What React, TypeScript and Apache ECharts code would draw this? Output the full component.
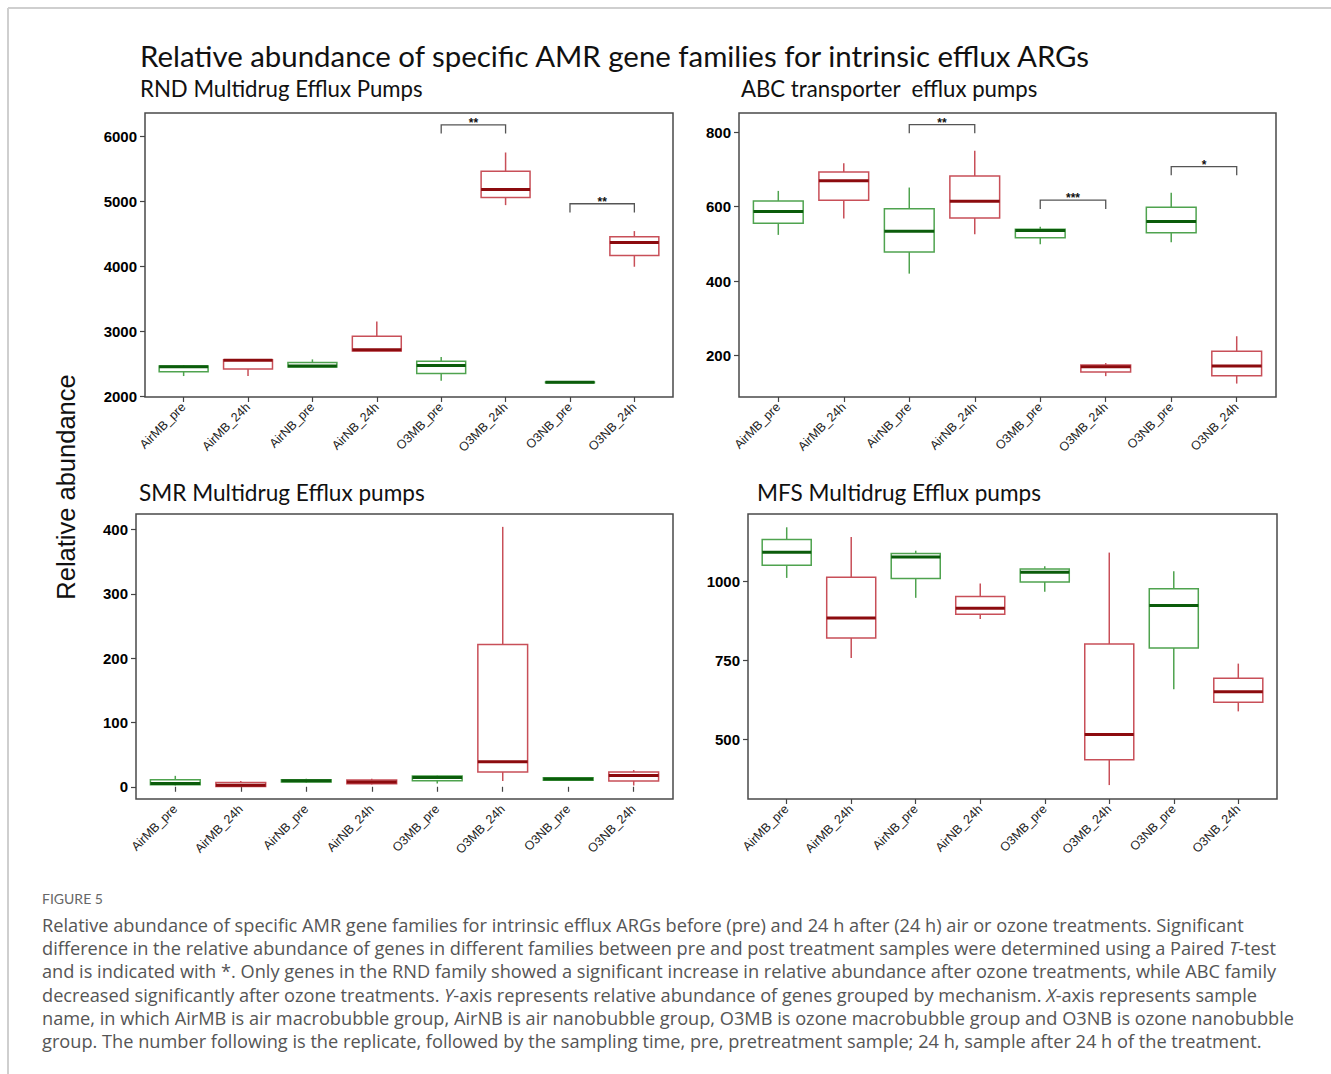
import React, { useEffect, useRef } from 'react';
import * as echarts from 'echarts';

// ---------- data ----------
const categories = ['AirMB_pre', 'AirMB_24h', 'AirNB_pre', 'AirNB_24h', 'O3MB_pre', 'O3MB_24h', 'O3NB_pre', 'O3NB_24h'];

// each row: [lower whisker, Q1, median, Q3, upper whisker]
const rndBoxes = [
  [2312, 2379, 2456, 2466, 2481],
  [2312, 2420, 2553, 2563, 2563],
  [2451, 2451, 2466, 2522, 2568],
  [2696, 2696, 2717, 2922, 3152],
  [2241, 2353, 2476, 2538, 2604],
  [4939, 5057, 5180, 5461, 5748],
  [2208, 2208, 2215, 2222, 2222],
  [3992, 4166, 4366, 4453, 4540],
];
const abcBoxes = [
  [524, 555, 587, 615, 642],
  [568, 617, 669, 693, 716],
  [420, 478, 534, 594, 651],
  [526, 569, 614, 682, 750],
  [499, 516, 536, 539, 546],
  [145, 156, 170, 175, 180],
  [504, 530, 560, 598, 637],
  [125, 146, 172, 212, 252],
];
const smrBoxes = [
  [2, 3, 5, 11, 17],
  [0, 0.5, 2.5, 6.5, 9],
  [6, 7.3, 9.3, 10.9, 12.5],
  [3.6, 4.7, 7.3, 10.4, 12.5],
  [5, 9.3, 14.5, 16.6, 17.6],
  [9, 23, 39, 221, 404],
  [10, 10, 12, 14, 14],
  [2, 9, 17.5, 22.8, 26],
];
const mfsBoxes = [
  [1010, 1050, 1091, 1131, 1170],
  [757, 820, 883, 1012, 1139],
  [947, 1008, 1076, 1087, 1096],
  [880, 895, 914, 951, 992],
  [966, 997, 1028, 1038, 1047],
  [355, 435, 515, 801, 1090],
  [658, 788, 923, 976, 1031],
  [588, 617, 650, 693, 739],
];

const rndTicks = [2000, 3000, 4000, 5000, 6000];
const abcTicks = [200, 400, 600, 800];
const smrTicks = [0, 100, 200, 300, 400];
const mfsTicks = [500, 750, 1000];

// significance brackets: [from category, to category, bracket height]
const rndSig = [[4, 5, 6173], [6, 7, 4960]];
const rndSigLabels = ['**', '**'];
const abcSig = [[2, 3, 820], [4, 5, 617], [6, 7, 707]];
const abcSigLabels = ['**', '***', '*'];

const mainTitle = 'Relative abundance of specific AMR gene families for intrinsic efflux ARGs';
const yAxisTitle = 'Relative abundance';
const figureLabel = 'FIGURE 5';
const captionLines = [
  'Relative abundance of specific AMR gene families for intrinsic efflux ARGs before (pre) and 24 h after (24 h) air or ozone treatments. Significant',
  'difference in the relative abundance of genes in different families between pre and post treatment samples were determined using a Paired {i|T}-test',
  'and is indicated with *. Only genes in the RND family showed a significant increase in relative abundance after ozone treatments, while ABC family',
  'decreased significantly after ozone treatments. {i|Y}-axis represents relative abundance of genes grouped by mechanism. {i|X}-axis represents sample',
  'name, in which AirMB is air macrobubble group, AirNB is air nanobubble group, O3MB is ozone macrobubble group and O3NB is ozone nanobubble',
  'group. The number following is the replicate, followed by the sampling time, pre, pretreatment sample; 24 h, sample after 24 h of the treatment.',
];

// ---------- layout ----------
const W = 1331;
const H = 1074;
const GREEN = { line: '#4fa34f', med: '#0b5c0b' };
const RED = { line: '#c84f58', med: '#8c0b0e' };
const CAPTION_FONT = 'Open Sans';
const CAPTION_SIZE = 18.2;

const panels = [
  { title: 'RND Multidrug Efflux Pumps', boxes: rndBoxes, ticks: rndTicks, min: 1990, max: 6355, frame: [145, 113, 673, 397], titlePos: [140, 88], sig: rndSig, sigLabels: rndSigLabels },
  { title: 'ABC transporter  efflux pumps', boxes: abcBoxes, ticks: abcTicks, min: 89, max: 851, frame: [739, 113, 1276, 397], titlePos: [741, 88], sig: abcSig, sigLabels: abcSigLabels },
  { title: 'SMR Multidrug Efflux pumps', boxes: smrBoxes, ticks: smrTicks, min: -19, max: 424, frame: [136, 514, 673, 799], titlePos: [139, 492], sig: [], sigLabels: [] },
  { title: 'MFS Multidrug Efflux pumps', boxes: mfsBoxes, ticks: mfsTicks, min: 311, max: 1212, frame: [748, 514, 1277, 799], titlePos: [757, 492], sig: [], sigLabels: [] },
];

function buildOption() {
  const grids: any[] = [];
  const xAxes: any[] = [];
  const yAxes: any[] = [];
  const series: any[] = [];
  const graphics: any[] = [];

  // card border (top and left edges visible)
  graphics.push({ type: 'line', shape: { x1: 8, y1: 8, x2: W, y2: 8 }, style: { stroke: '#cfcfcf', lineWidth: 2 }, silent: true });
  graphics.push({ type: 'line', shape: { x1: 8, y1: 8, x2: 8, y2: H }, style: { stroke: '#cfcfcf', lineWidth: 2 }, silent: true });

  graphics.push({
    type: 'text', x: 140, y: 55,
    style: { text: mainTitle, fill: '#111', fontSize: 29.4, fontFamily: 'Lato', textAlign: 'left', align: 'left', textVerticalAlign: 'middle', verticalAlign: 'middle' },
  });
  graphics.push({
    type: 'text', x: 66, y: 487, rotation: Math.PI / 2,
    style: { text: yAxisTitle, fill: '#111', fontSize: 25.5, fontFamily: 'Liberation Sans', textAlign: 'center', align: 'center', textVerticalAlign: 'middle', verticalAlign: 'middle' },
  });
  graphics.push({
    type: 'text', x: 42, y: 898,
    style: { text: figureLabel, fill: '#666', fontSize: 14, fontFamily: 'Lato', textAlign: 'left', align: 'left', textVerticalAlign: 'middle', verticalAlign: 'middle' },
  });
  captionLines.forEach((line, k) => {
    graphics.push({
      type: 'text', x: 42, y: 925 + k * 23.2,
      style: {
        text: line, fill: '#555', fontSize: CAPTION_SIZE, fontFamily: CAPTION_FONT, textAlign: 'left', align: 'left', textVerticalAlign: 'middle', verticalAlign: 'middle',
        rich: { i: { fontStyle: 'italic', fontSize: CAPTION_SIZE, fontFamily: CAPTION_FONT, fill: '#555' } },
      },
    });
  });

  panels.forEach((p, idx) => {
    const [L, T, R, B] = p.frame;
    const slot = (R - L) / 8.2;
    const inset = 0.1 * slot;
    grids.push({ left: L + inset, top: T, width: R - L - 2 * inset, height: B - T });
    graphics.push({ type: 'rect', shape: { x: L, y: T, width: R - L, height: B - T }, style: { fill: 'none', stroke: '#4a4a4a', lineWidth: 1.5 }, silent: true });
    graphics.push({
      type: 'text', x: p.titlePos[0], y: p.titlePos[1],
      style: { text: p.title, fill: '#111', fontSize: idx >= 2 ? 22.6 : 22.2, fontFamily: 'Lato', textAlign: 'left', align: 'left', textVerticalAlign: 'middle', verticalAlign: 'middle' },
    });

    xAxes.push({
      gridIndex: idx, type: 'category', data: categories, boundaryGap: true,
      axisLine: { show: false },
      axisTick: { show: true, alignWithLabel: true, interval: 0, length: 5, lineStyle: { color: '#444', width: 1.2 } },
      axisLabel: { interval: 0, rotate: 45, fontSize: 12.5, fontFamily: 'Liberation Sans', color: '#222', margin: 8 },
      splitLine: { show: false },
    });
    yAxes.push({
      gridIndex: idx, type: 'value', min: p.min, max: p.max, offset: inset,
      axisLine: { show: false },
      axisTick: { show: true, length: 5, customValues: p.ticks, lineStyle: { color: '#444', width: 1.2 } },
      axisLabel: { customValues: p.ticks, formatter: (v: number) => String(v), fontSize: 15, fontWeight: 'bold', fontFamily: 'Liberation Sans', color: '#000', margin: 8 },
      splitLine: { show: false },
    });

    series.push({
      type: 'custom', xAxisIndex: idx, yAxisIndex: idx,
      data: p.boxes.map((b, i) => [i, ...b]),
      encode: { x: 0, y: [1, 2, 3, 4, 5] },
      renderItem: (params: any, api: any) => {
        const i = api.value(0);
        const c = i % 2 === 0 ? GREEN : RED;
        const y = (k: number) => api.coord([i, api.value(k)])[1];
        const xp = api.coord([i, api.value(3)])[0];
        const bw = api.size([1, 0])[0] * 0.76;
        const yLo = y(1), yQ1 = y(2), yMed = y(3), yQ3 = y(4), yHi = y(5);
        return {
          type: 'group',
          children: [
            { type: 'line', shape: { x1: xp, y1: yHi, x2: xp, y2: yQ3 }, style: { stroke: c.line, lineWidth: 1.5 } },
            { type: 'line', shape: { x1: xp, y1: yQ1, x2: xp, y2: yLo }, style: { stroke: c.line, lineWidth: 1.5 } },
            { type: 'rect', shape: { x: xp - bw / 2, y: yQ3, width: bw, height: Math.max(yQ1 - yQ3, 0.5) }, style: { fill: 'none', stroke: c.line, lineWidth: 1.5 } },
            { type: 'line', shape: { x1: xp - bw / 2, y1: yMed, x2: xp + bw / 2, y2: yMed }, style: { stroke: c.med, lineWidth: 3 } },
          ],
        };
      },
      z: 3,
    });

    if (p.sig.length) {
      const labels = p.sigLabels;
      series.push({
        type: 'custom', xAxisIndex: idx, yAxisIndex: idx,
        data: p.sig,
        encode: { x: [0, 1], y: 2 },
        renderItem: (params: any, api: any) => {
          const p1 = api.coord([api.value(0), api.value(2)]);
          const p2 = api.coord([api.value(1), api.value(2)]);
          const leg = 8.7;
          return {
            type: 'group',
            children: [
              { type: 'polyline', shape: { points: [[p1[0], p1[1] + leg], [p1[0], p1[1]], [p2[0], p2[1]], [p2[0], p2[1] + leg]] }, style: { stroke: '#555', lineWidth: 1.3, fill: 'none' } },
              { type: 'text', x: (p1[0] + p2[0]) / 2, y: p1[1] + 4, style: { text: labels[params.dataIndex], fill: '#111', fontSize: 12, fontWeight: 'bold', fontFamily: 'Liberation Sans', textAlign: 'center', align: 'center', textVerticalAlign: 'bottom', verticalAlign: 'bottom' } },
            ],
          };
        },
        z: 3,
      });
    }
  });

  return {
    animation: false,
    backgroundColor: '#ffffff',
    grid: grids,
    xAxis: xAxes,
    yAxis: yAxes,
    series,
    graphic: { elements: graphics },
  };
}

export default function App() {
  const ref = useRef<HTMLDivElement>(null);
  useEffect(() => {
    if (!ref.current) return;
    const chart = echarts.init(ref.current, null, { renderer: 'svg', width: W, height: H });
    chart.setOption(buildOption());
    return () => chart.dispose();
  }, []);
  return <div ref={ref} style={{ position: 'absolute', left: 0, top: 0, width: W, height: H, background: '#fff' }} />;
}
